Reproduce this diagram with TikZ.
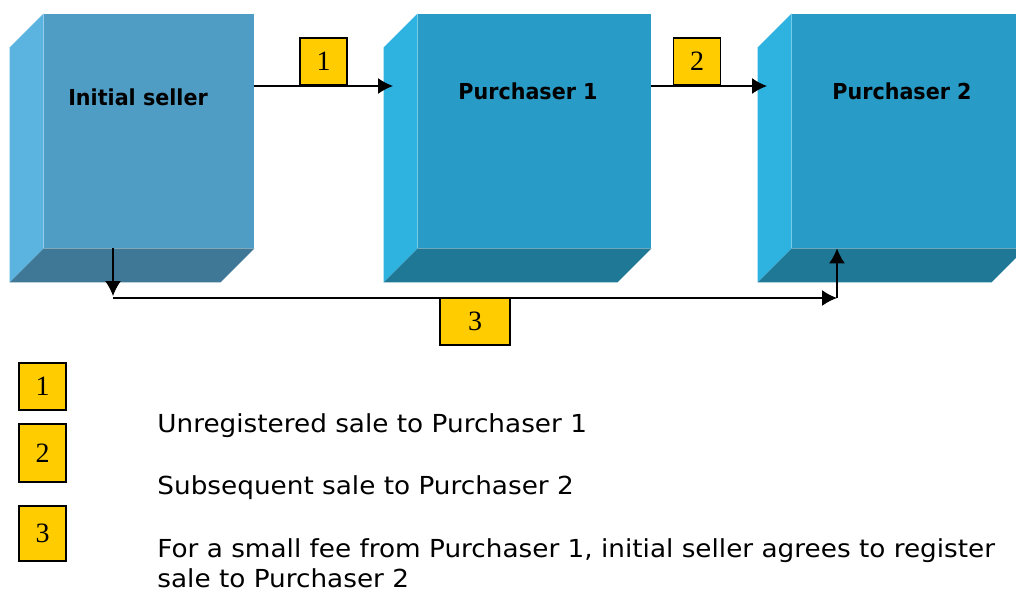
\documentclass[tikz,border=0pt]{standalone}
\usepackage{fontspec}
\setmainfont{DejaVu Sans}
\newfontfamily\numfont{Liberation Serif}
\newfontfamily\legendfont[FakeStretch=1.06]{DejaVu Sans}
\newfontfamily\titlefont[FakeStretch=0.94]{DejaVu Sans Bold}
\usetikzlibrary{arrows.meta,calc}
\definecolor{frontA}{HTML}{4F9CC5}
\definecolor{sideA}{HTML}{5BB3E0}
\definecolor{bottomA}{HTML}{3E7896}
\definecolor{frontB}{HTML}{289CC7}
\definecolor{sideB}{HTML}{2EB3E1}
\definecolor{bottomB}{HTML}{1F7896}
\definecolor{tagyellow}{HTML}{FFCC00}
\tikzset{
  front/.style={rectangle, inner sep=0pt, draw=none, minimum height=117pt},
  boxtitle/.style={anchor=base, font=\titlefont\fontsize{11}{13}\selectfont},
  tag/.style={rectangle, draw=black, line width=0.8pt, fill=tagyellow, inner sep=0pt,
              font=\numfont\fontsize{14}{16}\selectfont, minimum width=23.5pt},
  legendtext/.style={anchor=base west, inner sep=0pt, font=\legendfont\fontsize{12.4}{14}\selectfont},
  conn/.style={line width=0.75pt, -{Latex[length=7.5pt,width=8pt]}},
  plain/.style={line width=0.75pt}
}
\newcommand\cubefaces[3]{%
  \fill[#2] (#1.north west) -- ++(-34,34) -- ($(#1.south west)+(-34,34)$) -- (#1.south west) -- cycle;
  \fill[#3] (#1.south west) -- (#1.south east) -- ($(#1.south east)+(-34,34)$) -- ($(#1.south west)+(-34,34)$) -- cycle;
}
\begin{document}
\begin{tikzpicture}[x=0.5pt,y=-0.5pt]
\useasboundingbox (0,0) rectangle (1016,590);
\clip (0,0) rectangle (1016,590);
\fill[white] (0,0) rectangle (1016,590);

% boxes
\node[front, fill=frontA, minimum width=105pt] (seller) at (149,131) {};
\node[front, fill=frontB, minimum width=116.5pt] (p1) at (534.5,131) {};
\node[front, fill=frontB, minimum width=116.5pt] (p2) at (908.5,131) {};
\cubefaces{seller}{sideA}{bottomA}
\cubefaces{p1}{sideB}{bottomB}
\cubefaces{p2}{sideB}{bottomB}

\node[boxtitle] (tseller) at (138,105) {Initial seller};
\node[boxtitle] (tp1) at (528,99) {Purchaser 1};
\node[boxtitle] (tp2) at (902,99) {Purchaser 2};

% connectors
\coordinate (a1) at (393,86);
\coordinate (a2) at (767,86);
\coordinate (d1) at (113,296);
\coordinate (h1) at (113,298);
\coordinate (h2) at (837,298);
\draw[conn] (seller.east |- a1) -- (a1);
\draw[conn] (p1.east |- a2) -- (a2);
\draw[conn] (seller.south -| d1) -- (d1);
\draw[plain] (h1) -- ($(h2)+(-10,0)$);
\draw[conn] ($(h2)+(-12,0)$) -- (h2);
\draw[conn] (h2) -- (p2.south -| h2);

% tags on connectors
\node[tag, minimum height=23.5pt] (t1) at (323.5,61.5) {1};
\node[tag, minimum height=23.5pt] (t2) at (697,61.5) {2};
\node[tag, minimum height=23.5pt, minimum width=35pt] (t3) at (475,321.5) {3};

% legend
\node[tag, minimum height=23.5pt] (l1) at (42.5,386.5) {1};
\node[tag, minimum height=29pt] (l2) at (42.5,453) {2};
\node[tag, minimum height=27.5pt] (l3) at (42.5,533.5) {3};
\node[legendtext] (x1) at (157,432) {Unregistered sale to Purchaser 1};
\node[legendtext] (x2) at (157,494) {Subsequent sale to Purchaser 2};
\node[legendtext] (x3) at (157,557) {For a small fee from Purchaser 1, initial seller agrees to register};
\node[legendtext] (x4) at (157,587) {sale to Purchaser 2};
\end{tikzpicture}
\end{document}
